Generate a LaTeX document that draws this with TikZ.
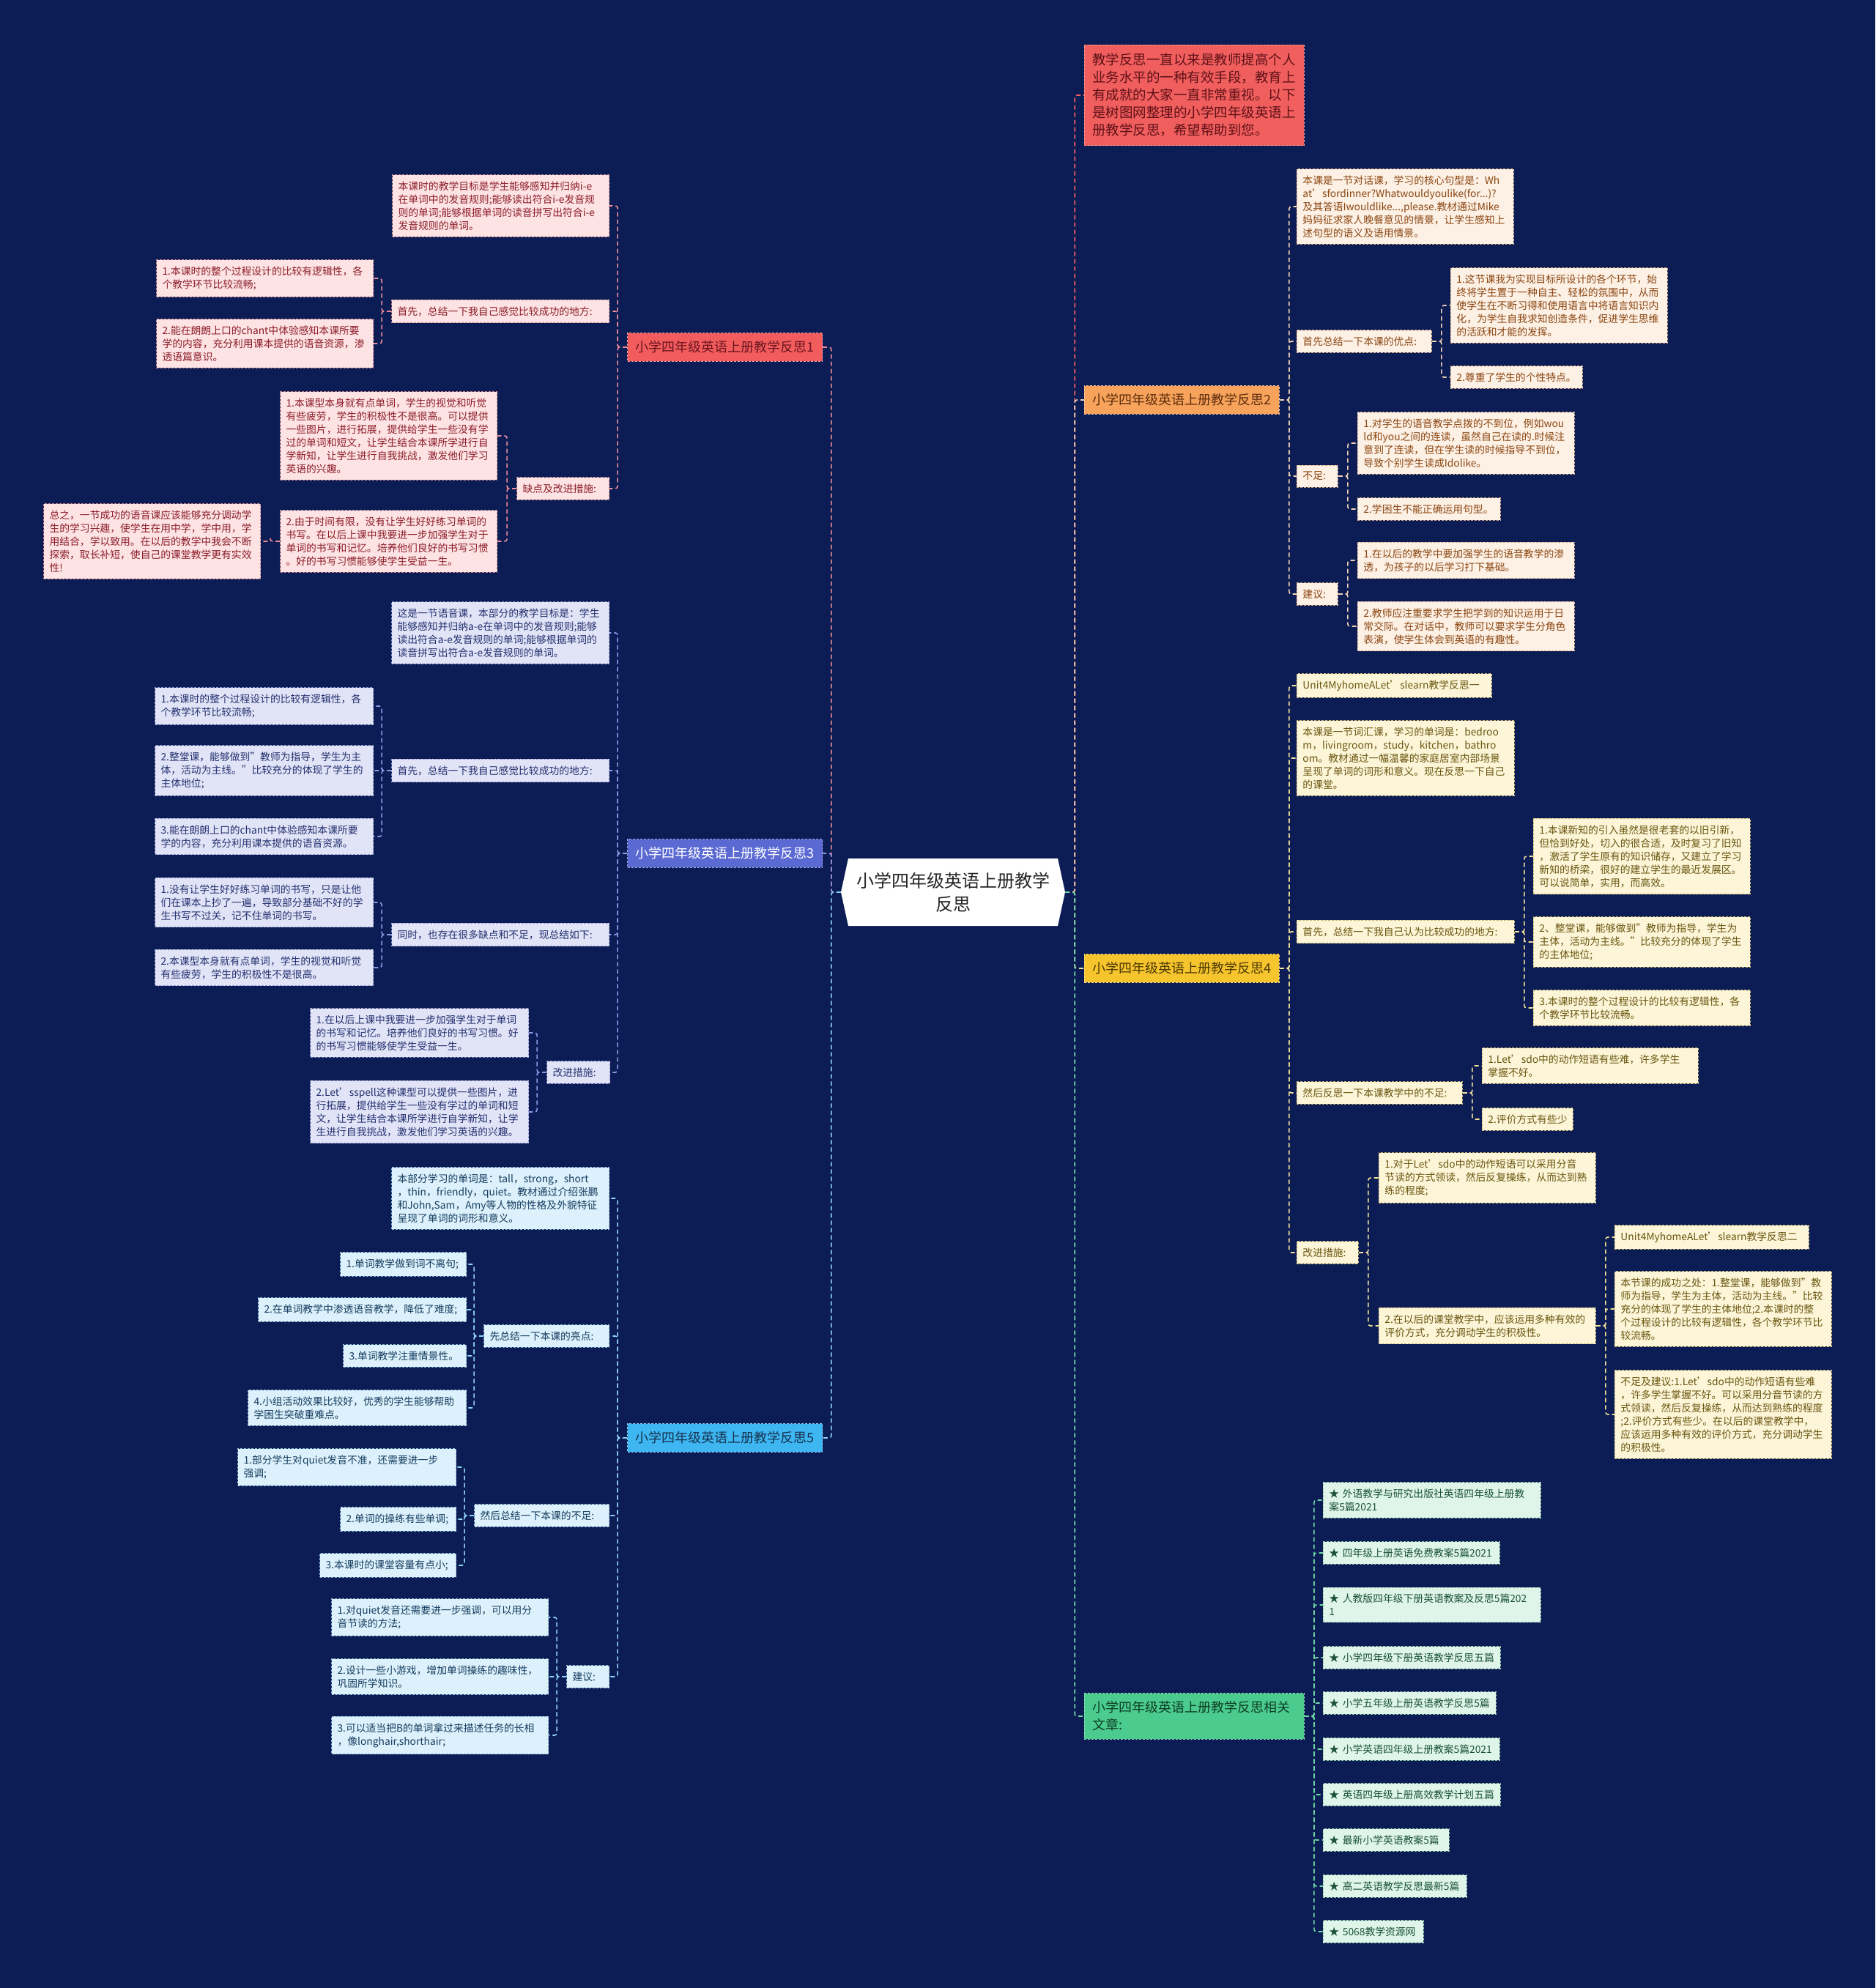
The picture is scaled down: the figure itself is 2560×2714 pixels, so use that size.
\documentclass[tikz,border=0pt]{standalone}
\usepackage{fontspec}
\setmainfont{Noto Sans CJK SC}
\definecolor{bg}{HTML}{0C1C54}
\definecolor{B1F}{HTML}{F25C5C}\definecolor{B1T}{HTML}{6B1520}
\definecolor{pkF}{HTML}{FDE3E3}\definecolor{pkT}{HTML}{8C1D2A}\definecolor{pkD}{HTML}{C98A8F}\definecolor{pkL}{HTML}{EC8D98}
\definecolor{B3F}{HTML}{5B6AD3}\definecolor{B3T}{HTML}{FFFFFF}
\definecolor{lvF}{HTML}{E1E4F7}\definecolor{lvT}{HTML}{24306E}\definecolor{lvD}{HTML}{8E96C9}\definecolor{lvL}{HTML}{8D99E6}
\definecolor{B5F}{HTML}{3DB6F2}\definecolor{B5T}{HTML}{17324F}
\definecolor{cyF}{HTML}{DCF1FB}\definecolor{cyT}{HTML}{163C5F}\definecolor{cyD}{HTML}{86B7D1}\definecolor{cyL}{HTML}{8FD3F3}
\definecolor{R0F}{HTML}{F15E5E}\definecolor{R0T}{HTML}{5E1117}
\definecolor{B2F}{HTML}{F7A35C}\definecolor{B2T}{HTML}{5E2C0B}
\definecolor{orF}{HTML}{FDF0E4}\definecolor{orT}{HTML}{8A4612}\definecolor{orD}{HTML}{D2A987}\definecolor{orL}{HTML}{F3D3B4}
\definecolor{B4F}{HTML}{F6C42D}\definecolor{B4T}{HTML}{4E3B05}
\definecolor{yeF}{HTML}{FCF5D7}\definecolor{yeT}{HTML}{6A5611}\definecolor{yeD}{HTML}{C9B774}\definecolor{yeL}{HTML}{F1E19A}
\definecolor{B6F}{HTML}{4BCB8D}\definecolor{B6T}{HTML}{0E3F26}
\definecolor{gnF}{HTML}{DFF5EA}\definecolor{gnT}{HTML}{1B5236}\definecolor{gnD}{HTML}{8FC7A8}\definecolor{gnL}{HTML}{6FD8A6}
\newcommand\mmL[3]{\draw[#1] (#2) -- ++(-13,0) |- (#3);}
\newcommand\mmR[3]{\draw[#1] (#2) -- ++(13,0) |- (#3);}
\tikzset{
  sbox/.style={rectangle, inner xsep=8pt, inner ysep=9pt, align=left,
    font=\fontsize{13.8}{18}\selectfont, line width=0.9pt, dash pattern=on 3pt off 2pt},
  bbox/.style={rectangle, inner xsep=11pt, inner ysep=11pt, align=left,
    font=\fontsize{18}{24}\selectfont, line width=0.9pt, dash pattern=on 3pt off 2pt},
  lt/.style={anchor=east}, rt/.style={anchor=west},
  pk/.style={sbox, fill=pkF, draw=pkD, text=pkT},
  lv/.style={sbox, fill=lvF, draw=lvD, text=lvT},
  cy/.style={sbox, fill=cyF, draw=cyD, text=cyT},
  or/.style={sbox, fill=orF, draw=orD, text=orT},
  ye/.style={sbox, fill=yeF, draw=yeD, text=yeT},
  gn/.style={sbox, fill=gnF, draw=gnD, text=gnT},
  conn/.style={line width=1.6pt, dash pattern=on 6pt off 4pt, rounded corners=3pt},
  cB1/.style={conn, draw=pkL}, cB3/.style={conn, draw=lvL}, cB5/.style={conn, draw=cyL},
  cR0/.style={conn, draw=R0F}, cB2/.style={conn, draw=orL}, cB4/.style={conn, draw=yeL},
  cB6/.style={conn, draw=gnL},
}
\begin{document}
\begin{tikzpicture}[x=1pt,y=-1pt]
\fill[bg] (0,0) rectangle (2560,2714);
\useasboundingbox (0,0) rectangle (2560,2714);

% root
\fill[white] (1148,1218) -- (1158,1172) -- (1444,1172) -- (1454,1218) -- (1444,1264) -- (1158,1264) -- cycle;
\node[font=\fontsize{24}{32}\selectfont, align=center, text=black!85, minimum width=306pt, minimum height=92pt, inner sep=0pt] (C) at (1301,1218) {小学四年级英语上册教学\\反思};

% ---------- left branches
\node[bbox, lt, text width=244pt, fill=B1F, draw=B1F!60!white, text=B1T] (B1) at (1123,474) {小学四年级英语上册教学反思1};
\node[bbox, lt, text width=244pt, fill=B3F, draw=B3F!60!white, text=B3T] (B3) at (1123,1165) {小学四年级英语上册教学反思3};
\node[bbox, lt, text width=244pt, fill=B5F, draw=B5F!60!white, text=B5T] (B5) at (1123,1963) {小学四年级英语上册教学反思5};

% B1 subtree
\node[pk, lt, text width=280pt] (L1a) at (832,281) {本课时的教学目标是学生能够感知并归纳i-e\\在单词中的发音规则;能够读出符合i-e发音规\\则的单词;能够根据单词的读音拼写出符合i-e\\发音规则的单词。};
\node[pk, lt, text width=281pt] (L1b) at (832,425) {首先，总结一下我自己感觉比较成功的地方:};
\node[pk, lt, text width=280pt] (L1b1) at (510,380) {1.本课时的整个过程设计的比较有逻辑性，各\\个教学环节比较流畅;};
\node[pk, lt, text width=280pt] (L1b2) at (510,469) {2.能在朗朗上口的chant中体验感知本课所要\\学的内容，充分利用课本提供的语音资源，渗\\透语篇意识。};
\node[pk, lt, text width=110pt] (L1c) at (832,667) {缺点及改进措施:};
\node[pk, lt, text width=280pt] (L1c1) at (679,595) {1.本课型本身就有点单词，学生的视觉和听觉\\有些疲劳，学生的积极性不是很高。可以提供\\一些图片，进行拓展，提供给学生一些没有学\\过的单词和短文，让学生结合本课所学进行自\\学新知，让学生进行自我挑战，激发他们学习\\英语的兴趣。};
\node[pk, lt, text width=280pt] (L1c2) at (679,739) {2.由于时间有限，没有让学生好好练习单词的\\书写。在以后上课中我要进一步加强学生对于\\单词的书写和记忆。培养他们良好的书写习惯\\。好的书写习惯能够使学生受益一生。};
\node[pk, lt, text width=280pt] (L1c2a) at (356,739) {总之，一节成功的语音课应该能够充分调动学\\生的学习兴趣，使学生在用中学，学中用，学\\用结合，学以致用。在以后的教学中我会不断\\探索，取长补短，使自己的课堂教学更有实效\\性!};

% B3 subtree
\node[lv, lt, text width=281pt] (L3a) at (832,864) {这是一节语音课，本部分的教学目标是：学生\\能够感知并归纳a-e在单词中的发音规则;能够\\读出符合a-e发音规则的单词;能够根据单词的\\读音拼写出符合a-e发音规则的单词。};
\node[lv, lt, text width=281pt] (L3b) at (832,1052) {首先，总结一下我自己感觉比较成功的地方:};
\node[lv, lt, text width=282pt] (L3b1) at (510,964) {1.本课时的整个过程设计的比较有逻辑性，各\\个教学环节比较流畅;};
\node[lv, lt, text width=282pt] (L3b2) at (510,1052) {2.整堂课，能够做到"教师为指导，学生为主\\体，活动为主线。"比较充分的体现了学生的\\主体地位;};
\node[lv, lt, text width=282pt] (L3b3) at (510,1142) {3.能在朗朗上口的chant中体验感知本课所要\\学的内容，充分利用课本提供的语音资源。};
\node[lv, lt, text width=281pt] (L3c) at (832,1276) {同时，也存在很多缺点和不足，现总结如下:};
\node[lv, lt, text width=282pt] (L3c1) at (510,1232) {1.没有让学生好好练习单词的书写，只是让他\\们在课本上抄了一遍，导致部分基础不好的学\\生书写不过关，记不住单词的书写。};
\node[lv, lt, text width=282pt] (L3c2) at (510,1321) {2.本课型本身就有点单词，学生的视觉和听觉\\有些疲劳，学生的积极性不是很高。};
\node[lv, lt, text width=70pt] (L3d) at (833,1464) {改进措施:};
\node[lv, lt, text width=282pt] (L3d1) at (722,1410) {1.在以后上课中我要进一步加强学生对于单词\\的书写和记忆。培养他们良好的书写习惯。好\\的书写习惯能够使学生受益一生。};
\node[lv, lt, text width=282pt] (L3d2) at (722,1518) {2.Let’sspell这种课型可以提供一些图片，进\\行拓展，提供给学生一些没有学过的单词和短\\文，让学生结合本课所学进行自学新知，让学\\生进行自我挑战，激发他们学习英语的兴趣。};

% B5 subtree
\node[cy, lt, text width=281pt] (L5a) at (832,1636) {本部分学习的单词是：tall，strong，short\\，thin，friendly，quiet。教材通过介绍张鹏\\和John,Sam，Amy等人物的性格及外貌特征\\呈现了单词的词形和意义。};
\node[cy, lt, text width=155pt] (L5b) at (832,1824) {先总结一下本课的亮点:};
\node[cy, lt, text width=156pt] (L5b1) at (637,1726) {1.单词教学做到词不离句;};
\node[cy, lt, text width=268pt] (L5b2) at (637,1788) {2.在单词教学中渗透语音教学，降低了难度;};
\node[cy, lt, text width=152pt] (L5b3) at (637,1851) {3.单词教学注重情景性。};
\node[cy, lt, text width=282pt] (L5b4) at (637,1922) {4.小组活动效果比较好，优秀的学生能够帮助\\学困生突破重难点。};
\node[cy, lt, text width=168pt] (L5c) at (832,2069) {然后总结一下本课的不足:};
\node[cy, lt, text width=282pt] (L5c1) at (623,2003) {1.部分学生对quiet发音不准，还需要进一步\\强调;};
\node[cy, lt, text width=142pt] (L5c2) at (623,2074) {2.单词的操练有些单调;};
\node[cy, lt, text width=170pt] (L5c3) at (623,2137) {3.本课时的课堂容量有点小;};
\node[cy, lt, text width=42pt] (L5d) at (832,2289) {建议:};
\node[cy, lt, text width=280pt] (L5d1) at (749,2208) {1.对quiet发音还需要进一步强调，可以用分\\音节读的方法;};
\node[cy, lt, text width=280pt] (L5d2) at (749,2289) {2.设计一些小游戏，增加单词操练的趣味性，\\巩固所学知识。};
\node[cy, lt, text width=280pt] (L5d3) at (749,2369) {3.可以适当把B的单词拿过来描述任务的长相\\，像longhair,shorthair;};

% ---------- right branches
\node[bbox, rt, text width=278pt, inner xsep=11pt, inner ysep=12pt, font=\fontsize{18.5}{24}\selectfont, fill=R0F, draw=R0F!60!white, text=R0T] (R0) at (1480,130) {教学反思一直以来是教师提高个人\\业务水平的一种有效手段，教育上\\有成就的大家一直非常重视。以下\\是树图网整理的小学四年级英语上\\册教学反思，希望帮助到您。};
\node[bbox, rt, text width=244pt, fill=B2F, draw=B2F!60!white, text=B2T] (B2) at (1480,546) {小学四年级英语上册教学反思2};
\node[bbox, rt, text width=244pt, fill=B4F, draw=B4F!60!white, text=B4T] (B4) at (1480,1322) {小学四年级英语上册教学反思4};
\node[bbox, rt, text width=278pt, fill=B6F, draw=B6F!60!white, text=B6T] (B6) at (1480,2343) {小学四年级英语上册教学反思相关\\文章:};

% B2 subtree
\node[or, rt, text width=280pt] (R2a) at (1770,282) {本课是一节对话课，学习的核心句型是：Wh\\at’sfordinner?Whatwouldyoulike(for...)?\\及其答语Iwouldlike...,please.教材通过Mike\\妈妈征求家人晚餐意见的情景，让学生感知上\\述句型的语义及语用情景。};
\node[or, rt, text width=168pt] (R2b) at (1770,466) {首先总结一下本课的优点:};
\node[or, rt, text width=280pt] (R2b1) at (1980,417) {1.这节课我为实现目标所设计的各个环节，始\\终将学生置于一种自主、轻松的氛围中，从而\\使学生在不断习得和使用语言中将语言知识内\\化，为学生自我求知创造条件，促进学生思维\\的活跃和才能的发挥。};
\node[or, rt, text width=164pt] (R2b2) at (1980,515) {2.尊重了学生的个性特点。};
\node[or, rt, text width=40pt] (R2c) at (1770,650) {不足:};
\node[or, rt, text width=280pt] (R2c1) at (1853,605) {1.对学生的语音教学点拨的不到位，例如wou\\ld和you之间的连读，虽然自己在读的.时候注\\意到了连读，但在学生读的时候指导不到位，\\导致个别学生读成Idolike。};
\node[or, rt, text width=179pt] (R2c2) at (1853,695) {2.学困生不能正确运用句型。};
\node[or, rt, text width=40pt] (R2d) at (1770,811) {建议:};
\node[or, rt, text width=280pt] (R2d1) at (1853,765) {1.在以后的教学中要加强学生的语音教学的渗\\透，为孩子的以后学习打下基础。};
\node[or, rt, text width=280pt] (R2d2) at (1853,855) {2.教师应注重要求学生把学到的知识运用于日\\常交际。在对话中，教师可以要求学生分角色\\表演，使学生体会到英语的有趣性。};

% B4 subtree
\node[ye, rt, text width=250pt] (R4a) at (1770,936) {Unit4MyhomeALet’slearn教学反思一};
\node[ye, rt, text width=281pt] (R4b) at (1770,1035) {本课是一节词汇课，学习的单词是：bedroo\\m，livingroom，study，kitchen，bathro\\om。教材通过一幅温馨的家庭居室内部场景\\呈现了单词的词形和意义。现在反思一下自己\\的课堂。};
\node[ye, rt, text width=281pt] (R4c) at (1770,1272) {首先，总结一下我自己认为比较成功的地方:};
\node[ye, rt, text width=280pt] (R4c1) at (2093,1169) {1.本课新知的引入虽然是很老套的以旧引新，\\但恰到好处，切入的很合适，及时复习了旧知\\，激活了学生原有的知识储存，又建立了学习\\新知的桥梁，很好的建立学生的最近发展区。\\可以说简单，实用，而高效。};
\node[ye, rt, text width=280pt] (R4c2) at (2093,1286) {2、整堂课，能够做到"教师为指导，学生为\\主体，活动为主线。"比较充分的体现了学生\\的主体地位;};
\node[ye, rt, text width=280pt] (R4c3) at (2093,1376) {3.本课时的整个过程设计的比较有逻辑性，各\\个教学环节比较流畅。};
\node[ye, rt, text width=210pt] (R4d) at (1770,1492) {然后反思一下本课教学中的不足:};
\node[ye, rt, text width=279pt] (R4d1) at (2023,1455) {1.Let’sdo中的动作短语有些难，许多学生\\掌握不好。};
\node[ye, rt, text width=108pt] (R4d2) at (2023,1528) {2.评价方式有些少};
\node[ye, rt, text width=68pt] (R4e) at (1770,1710) {改进措施:};
\node[ye, rt, text width=280pt] (R4e1) at (1882,1608) {1.对于Let’sdo中的动作短语可以采用分音\\节读的方式领读，然后反复操练，从而达到熟\\练的程度;};
\node[ye, rt, text width=280pt] (R4e2) at (1882,1810) {2.在以后的课堂教学中，应该运用多种有效的\\评价方式，充分调动学生的积极性。};
\node[ye, rt, text width=249pt] (R4e2a) at (2204,1689) {Unit4MyhomeALet’slearn教学反思二};
\node[ye, rt, text width=280pt] (R4e2b) at (2204,1787) {本节课的成功之处：1.整堂课，能够做到"教\\师为指导，学生为主体，活动为主线。"比较\\充分的体现了学生的主体地位;2.本课时的整\\个过程设计的比较有逻辑性，各个教学环节比\\较流畅。};
\node[ye, rt, text width=280pt] (R4e2c) at (2204,1931) {不足及建议:1.Let’sdo中的动作短语有些难\\，许多学生掌握不好。可以采用分音节读的方\\式领读，然后反复操练，从而达到熟练的程度\\;2.评价方式有些少。在以后的课堂教学中，\\应该运用多种有效的评价方式，充分调动学生\\的积极性。};

% B6 subtree
\node[gn, rt, text width=281pt] (G1) at (1806,2048) {★~外语教学与研究出版社英语四年级上册教\\案5篇2021};
\node[gn, rt, text width=225pt] (G2) at (1806,2120) {★~四年级上册英语免费教案5篇2021};
\node[gn, rt, text width=281pt] (G3) at (1806,2191) {★~人教版四年级下册英语教案及反思5篇202\\1};
\node[gn, rt, text width=226pt] (G4) at (1806,2263) {★~小学四年级下册英语教学反思五篇};
\node[gn, rt, text width=220pt] (G5) at (1806,2325) {★~小学五年级上册英语教学反思5篇};
\node[gn, rt, text width=225pt] (G6) at (1806,2388) {★~小学英语四年级上册教案5篇2021};
\node[gn, rt, text width=226pt] (G7) at (1806,2450) {★~英语四年级上册高效教学计划五篇};
\node[gn, rt, text width=156pt] (G8) at (1806,2512) {★~最新小学英语教案5篇};
\node[gn, rt, text width=180pt] (G9) at (1806,2575) {★~高二英语教学反思最新5篇};
\node[gn, rt, text width=121pt] (G10) at (1806,2637) {★~5068教学资源网};

% ---------- connectors
\mmL{cB1}{C.west}{B1.east}
\mmL{cB3}{C.west}{B3.east}
\mmL{cB5}{C.west}{B5.east}
\mmR{cR0}{C.east}{R0.west}
\mmR{cB2}{C.east}{B2.west}
\mmR{cB4}{C.east}{B4.west}
\mmR{cB6}{C.east}{B6.west}

\mmL{cB1}{B1.west}{L1a.east}
\mmL{cB1}{B1.west}{L1b.east}
\mmL{cB1}{B1.west}{L1c.east}
\mmL{cB1}{L1b.west}{L1b1.east}
\mmL{cB1}{L1b.west}{L1b2.east}
\mmL{cB1}{L1c.west}{L1c1.east}
\mmL{cB1}{L1c.west}{L1c2.east}
\mmL{cB1}{L1c2.west}{L1c2a.east}

\mmL{cB3}{B3.west}{L3a.east}
\mmL{cB3}{B3.west}{L3b.east}
\mmL{cB3}{B3.west}{L3c.east}
\mmL{cB3}{B3.west}{L3d.east}
\mmL{cB3}{L3b.west}{L3b1.east}
\mmL{cB3}{L3b.west}{L3b2.east}
\mmL{cB3}{L3b.west}{L3b3.east}
\mmL{cB3}{L3c.west}{L3c1.east}
\mmL{cB3}{L3c.west}{L3c2.east}
\mmL{cB3}{L3d.west}{L3d1.east}
\mmL{cB3}{L3d.west}{L3d2.east}

\mmL{cB5}{B5.west}{L5a.east}
\mmL{cB5}{B5.west}{L5b.east}
\mmL{cB5}{B5.west}{L5c.east}
\mmL{cB5}{B5.west}{L5d.east}
\mmL{cB5}{L5b.west}{L5b1.east}
\mmL{cB5}{L5b.west}{L5b2.east}
\mmL{cB5}{L5b.west}{L5b3.east}
\mmL{cB5}{L5b.west}{L5b4.east}
\mmL{cB5}{L5c.west}{L5c1.east}
\mmL{cB5}{L5c.west}{L5c2.east}
\mmL{cB5}{L5c.west}{L5c3.east}
\mmL{cB5}{L5d.west}{L5d1.east}
\mmL{cB5}{L5d.west}{L5d2.east}
\mmL{cB5}{L5d.west}{L5d3.east}

\mmR{cB2}{B2.east}{R2a.west}
\mmR{cB2}{B2.east}{R2b.west}
\mmR{cB2}{B2.east}{R2c.west}
\mmR{cB2}{B2.east}{R2d.west}
\mmR{cB2}{R2b.east}{R2b1.west}
\mmR{cB2}{R2b.east}{R2b2.west}
\mmR{cB2}{R2c.east}{R2c1.west}
\mmR{cB2}{R2c.east}{R2c2.west}
\mmR{cB2}{R2d.east}{R2d1.west}
\mmR{cB2}{R2d.east}{R2d2.west}

\mmR{cB4}{B4.east}{R4a.west}
\mmR{cB4}{B4.east}{R4b.west}
\mmR{cB4}{B4.east}{R4c.west}
\mmR{cB4}{B4.east}{R4d.west}
\mmR{cB4}{B4.east}{R4e.west}
\mmR{cB4}{R4c.east}{R4c1.west}
\mmR{cB4}{R4c.east}{R4c2.west}
\mmR{cB4}{R4c.east}{R4c3.west}
\mmR{cB4}{R4d.east}{R4d1.west}
\mmR{cB4}{R4d.east}{R4d2.west}
\mmR{cB4}{R4e.east}{R4e1.west}
\mmR{cB4}{R4e.east}{R4e2.west}
\mmR{cB4}{R4e2.east}{R4e2a.west}
\mmR{cB4}{R4e2.east}{R4e2b.west}
\mmR{cB4}{R4e2.east}{R4e2c.west}

\mmR{cB6}{B6.east}{G1.west}
\mmR{cB6}{B6.east}{G2.west}
\mmR{cB6}{B6.east}{G3.west}
\mmR{cB6}{B6.east}{G4.west}
\mmR{cB6}{B6.east}{G5.west}
\mmR{cB6}{B6.east}{G6.west}
\mmR{cB6}{B6.east}{G7.west}
\mmR{cB6}{B6.east}{G8.west}
\mmR{cB6}{B6.east}{G9.west}
\mmR{cB6}{B6.east}{G10.west}
\end{tikzpicture}
\end{document}
